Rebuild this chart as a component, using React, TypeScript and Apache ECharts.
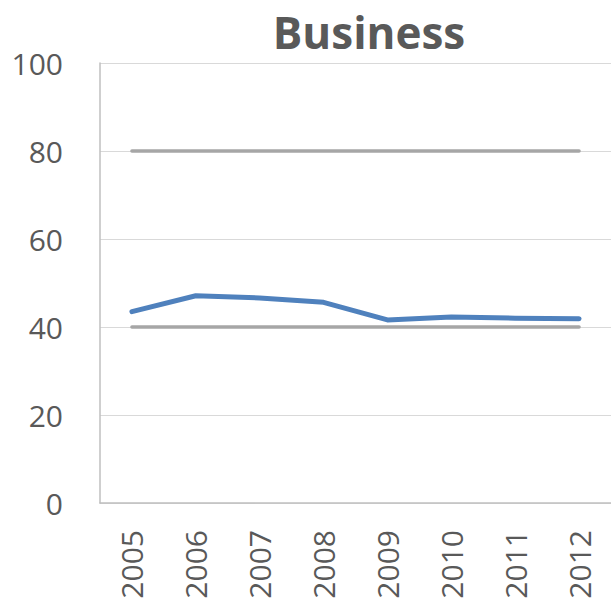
import React, { useEffect, useRef } from "react";
import * as echarts from "echarts";

const years = ["2005", "2006", "2007", "2008", "2009", "2010", "2011", "2012"];
const business = [43.5, 47.1, 46.6, 45.6, 41.6, 42.3, 42.0, 41.9];
const upperRef = [80, 80, 80, 80, 80, 80, 80, 80];
const lowerRef = [40, 40, 40, 40, 40, 40, 40, 40];
const titleText = "Business";

export default function App() {
  const ref = useRef<HTMLDivElement>(null);
  useEffect(() => {
    document.body.style.margin = "0";
    const chart = echarts.init(ref.current!, undefined, { renderer: "svg" });
    chart.setOption({
      animation: false,
      title: {
        text: titleText,
        left: 364,
        top: 5,
        textAlign: "center",
        textStyle: {
          fontFamily: "Open Sans",
          fontWeight: "bold",
          fontSize: 44,
          color: "#595959",
        },
      },
      grid: { left: 100, right: -3, top: 63, bottom: 102 },
      xAxis: {
        type: "category",
        data: years,
        boundaryGap: true,
        axisLine: { show: true, lineStyle: { color: "#bfbfbf", width: 1.5 } },
        axisTick: { show: false },
        axisLabel: {
          rotate: 90,
          margin: 27,
          fontFamily: "Open Sans",
          fontSize: 30,
          color: "#595959",
        },
      },
      yAxis: {
        type: "value",
        min: 0,
        max: 100,
        interval: 20,
        axisLine: { show: true, lineStyle: { color: "#bfbfbf", width: 1.5 } },
        axisTick: { show: false },
        splitLine: { lineStyle: { color: "#d9d9d9", width: 1 } },
        axisLabel: {
          margin: 37,
          fontFamily: "Open Sans",
          fontSize: 30,
          color: "#595959",
        },
      },
      series: [
        {
          type: "line",
          data: upperRef,
          symbol: "none",
          lineStyle: { color: "#a6a6a6", width: 3.5, cap: "round" },
        },
        {
          type: "line",
          data: lowerRef,
          symbol: "none",
          lineStyle: { color: "#a6a6a6", width: 3.5, cap: "round" },
        },
        {
          type: "line",
          data: business,
          symbol: "none",
          lineStyle: { color: "#4f81bd", width: 5, cap: "round", join: "round" },
        },
      ],
    });
    return () => chart.dispose();
  }, []);
  return <div ref={ref} style={{ width: 611, height: 605 }} />;
}
